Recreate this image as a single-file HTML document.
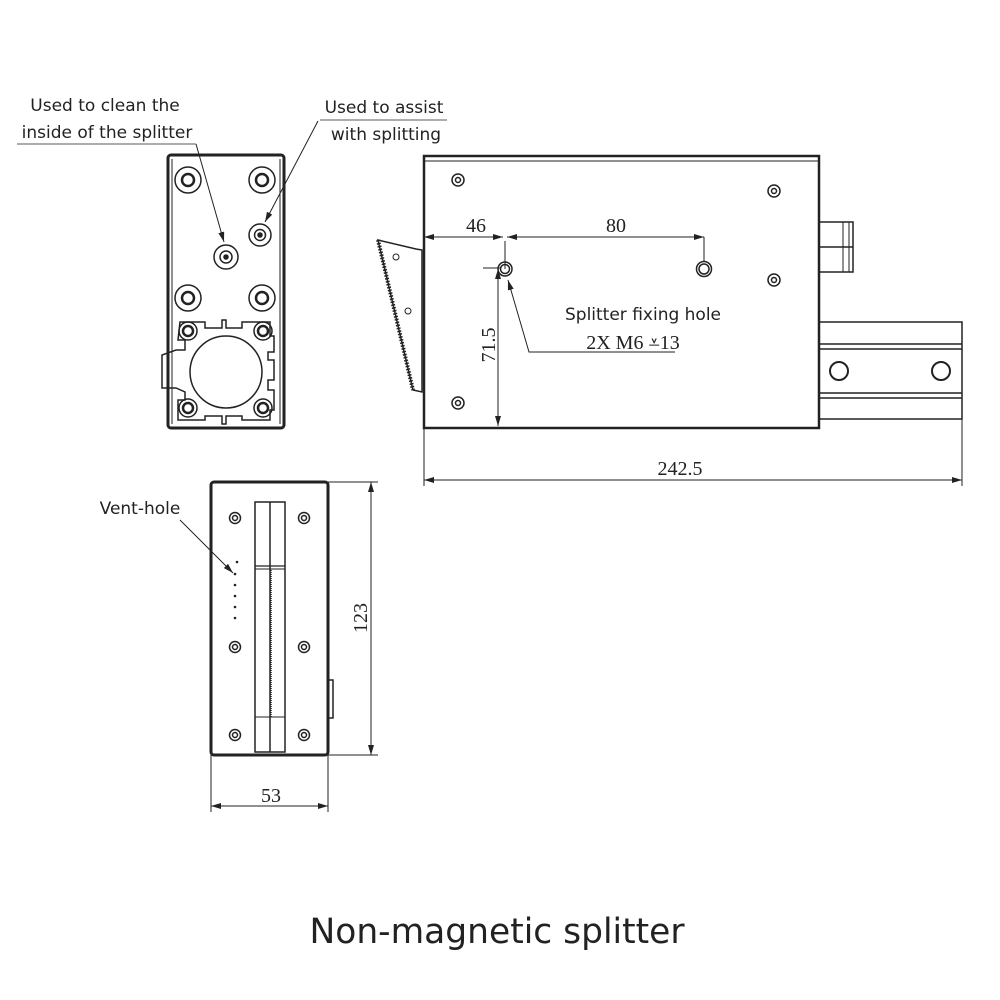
<!DOCTYPE html>
<html><head><meta charset="utf-8"><style>
body{margin:0;background:#fff}
svg{display:block}
.s{font-family:"DejaVu Sans","Liberation Sans",sans-serif}
.m{font-family:"Liberation Serif",serif}
</style></head><body>
<svg width="1000" height="1000" viewBox="0 0 1000 1000" xmlns="http://www.w3.org/2000/svg">
<defs>
<marker id="a" markerWidth="10" markerHeight="6" refX="10" refY="3" orient="auto-start-reverse" markerUnits="userSpaceOnUse"><path d="M0,0 L10,3 L0,6z" fill="#222"/></marker>
</defs>
<g fill="none" stroke="#222">
<rect x="168" y="155" width="116" height="273" rx="3" stroke-width="3"/>
<line x1="172" y1="159" x2="172" y2="424" stroke-width="1"/>
<line x1="280" y1="159" x2="280" y2="424" stroke-width="1"/>
<g stroke-width="1.5">
<circle cx="188" cy="180" r="13"/><circle cx="188" cy="180" r="6" stroke-width="2.5"/>
<circle cx="262" cy="180" r="13"/><circle cx="262" cy="180" r="6" stroke-width="2.5"/>
<circle cx="188" cy="298" r="13"/><circle cx="188" cy="298" r="6" stroke-width="2.5"/>
<circle cx="262" cy="298" r="13"/><circle cx="262" cy="298" r="6" stroke-width="2.5"/>
<circle cx="226" cy="257" r="12"/><circle cx="226" cy="257" r="6"/><circle cx="226" cy="257" r="2" fill="#222"/>
<circle cx="260" cy="235" r="11"/><circle cx="260" cy="235" r="5.5"/><circle cx="260" cy="235" r="2" fill="#222"/>
<path d="M180,322 H205 V328 H222 V320 H226 V328 H242 V322 H270 V336 H274 V352 H268 V360 H274 V380 H268 V390 H274 V410 H270 V420 H242 V416 H226 V424 H222 V416 H205 V420 H178 V400 H185 V392 L176,388 H162 V355 L176,350 H185 V340 H178 Z"/>
<circle cx="226" cy="372" r="36"/>
<circle cx="188" cy="331" r="9"/><circle cx="188" cy="331" r="5" stroke-width="2.5"/>
<circle cx="263" cy="331" r="9"/><circle cx="263" cy="331" r="5" stroke-width="2.5"/>
<circle cx="188" cy="408" r="9"/><circle cx="188" cy="408" r="5" stroke-width="2.5"/>
<circle cx="263" cy="408" r="9"/><circle cx="263" cy="408" r="5" stroke-width="2.5"/>
</g>
<line x1="17" y1="144" x2="196" y2="144" stroke-width="0.8"/>
<line x1="196" y1="144" x2="224" y2="242" stroke-width="1" marker-end="url(#a)"/>
<line x1="320" y1="120" x2="447" y2="120" stroke-width="0.8"/>
<line x1="318" y1="121" x2="265" y2="222" stroke-width="1" marker-end="url(#a)"/>

<rect x="424" y="156" width="395" height="272" stroke-width="2.5"/>
<line x1="424" y1="161" x2="819" y2="161" stroke-width="1"/>
<g stroke-width="1.5">
<circle cx="458" cy="180" r="6"/><circle cx="458" cy="180" r="2.5"/>
<circle cx="774" cy="191" r="6"/><circle cx="774" cy="191" r="2.5"/>
<circle cx="774" cy="280" r="6"/><circle cx="774" cy="280" r="2.5"/>
<circle cx="458" cy="403" r="6"/><circle cx="458" cy="403" r="2.5"/>
<circle cx="505" cy="269" r="7"/><circle cx="505" cy="269" r="4.5"/>
<circle cx="704" cy="269" r="7.5"/><circle cx="704" cy="269" r="5"/>
</g>
<line x1="505" y1="269" x2="505" y2="241" stroke-width="1"/>
<line x1="704" y1="262" x2="704" y2="237" stroke-width="1"/>
<line x1="424" y1="237" x2="503" y2="237" stroke-width="1" marker-start="url(#a)" marker-end="url(#a)"/>
<line x1="507" y1="237" x2="704" y2="237" stroke-width="1" marker-start="url(#a)" marker-end="url(#a)"/>
<line x1="483" y1="268" x2="500" y2="268" stroke-width="1"/>
<line x1="498" y1="269" x2="498" y2="426" stroke-width="1" marker-start="url(#a)" marker-end="url(#a)"/>
<polyline points="675,352 529,352 508,280" stroke-width="1" marker-end="url(#a)"/>
<rect x="819" y="222" width="34" height="50" stroke-width="1.5"/>
<line x1="819" y1="247" x2="853" y2="247" stroke-width="1.5"/>
<line x1="843" y1="222" x2="843" y2="272" stroke-width="1"/>
<line x1="849" y1="222" x2="849" y2="272" stroke-width="1"/>
<rect x="819" y="322" width="143" height="97" stroke-width="1.5"/>
<line x1="819" y1="344" x2="962" y2="344" stroke-width="1.5"/>
<line x1="819" y1="349" x2="962" y2="349" stroke-width="1.5"/>
<line x1="819" y1="393" x2="962" y2="393" stroke-width="1.5"/>
<line x1="819" y1="398" x2="962" y2="398" stroke-width="1.5"/>
<circle cx="839" cy="371" r="9" stroke-width="2"/><circle cx="941" cy="371" r="9" stroke-width="2"/>
<path d="M378,240 L416,249 L422,250 L422,392 L413,390 Z" stroke-width="1.5"/>
<path d="M378,240 L413,390" stroke-width="4" stroke-dasharray="1.5 1.5"/>
<circle cx="396" cy="257" r="3" stroke-width="1"/><circle cx="408" cy="311" r="3" stroke-width="1"/>
<line x1="424" y1="428" x2="424" y2="486" stroke-width="1"/>
<line x1="962" y1="419" x2="962" y2="486" stroke-width="1"/>
<line x1="424" y1="480" x2="962" y2="480" stroke-width="1" marker-start="url(#a)" marker-end="url(#a)"/>

<rect x="211" y="482" width="117" height="273" rx="3" stroke-width="3"/>
<rect x="255" y="502" width="30" height="250" stroke-width="1.5"/>
<line x1="270" y1="502" x2="270" y2="752" stroke-width="1.5"/>
<line x1="255" y1="566" x2="285" y2="566" stroke-width="1.2"/>
<line x1="255" y1="569" x2="285" y2="569" stroke-width="1"/>
<line x1="255" y1="717" x2="285" y2="717" stroke-width="1"/>
<line x1="271" y1="570" x2="271" y2="717" stroke-width="1.5" stroke-dasharray="1 1"/>
<g stroke-width="1.5">
<circle cx="235" cy="518" r="5.5"/><circle cx="235" cy="518" r="2.5"/>
<circle cx="304" cy="518" r="5.5"/><circle cx="304" cy="518" r="2.5"/>
<circle cx="235" cy="647" r="5.5"/><circle cx="235" cy="647" r="2.5"/>
<circle cx="304" cy="647" r="5.5"/><circle cx="304" cy="647" r="2.5"/>
<circle cx="235" cy="735" r="5.5"/><circle cx="235" cy="735" r="2.5"/>
<circle cx="304" cy="735" r="5.5"/><circle cx="304" cy="735" r="2.5"/>
</g>
<path d="M328,680 H333 V718 H328" stroke-width="1.5"/>
<line x1="180" y1="520" x2="233" y2="573" stroke-width="1" marker-end="url(#a)"/>
<line x1="328" y1="482" x2="378" y2="482" stroke-width="1"/>
<line x1="328" y1="755" x2="378" y2="755" stroke-width="1"/>
<line x1="371" y1="482" x2="371" y2="755" stroke-width="1" marker-start="url(#a)" marker-end="url(#a)"/>
<line x1="211" y1="755" x2="211" y2="812" stroke-width="1"/>
<line x1="328" y1="755" x2="328" y2="812" stroke-width="1"/>
<line x1="211" y1="806" x2="328" y2="806" stroke-width="1" marker-start="url(#a)" marker-end="url(#a)"/>
</g>
<g fill="#222">
<circle cx="237" cy="562" r="1.3"/><circle cx="235" cy="574" r="1.3"/><circle cx="235" cy="585" r="1.3"/><circle cx="235" cy="596" r="1.3"/><circle cx="235" cy="607" r="1.3"/><circle cx="235" cy="618" r="1.3"/>
</g>
<g class="s" font-size="17" fill="#222" text-anchor="middle">
<text x="105" y="111">Used to clean the</text>
<text x="107" y="138">inside of the splitter</text>
<text x="384" y="113">Used to assist</text>
<text x="386" y="140">with splitting</text>
<text x="140" y="514">Vent-hole</text>
<text x="643" y="320">Splitter fixing hole</text>
</g>
<g class="m" font-size="20" fill="#222" text-anchor="middle">
<text x="476" y="232">46</text>
<text x="616" y="232">80</text>
<text x="633" y="349">2X  M6  ⩡13</text>
<text x="680" y="475">242.5</text>
<text x="271" y="802">53</text>
<text transform="translate(367,618) rotate(-90)">123</text>
<text transform="translate(495,345) rotate(-90)">71.5</text>
</g>
<text x="497" y="943" class="s" font-size="35" fill="#222" text-anchor="middle" textLength="375" lengthAdjust="spacingAndGlyphs">Non-magnetic splitter</text>
</svg>
</body></html>
